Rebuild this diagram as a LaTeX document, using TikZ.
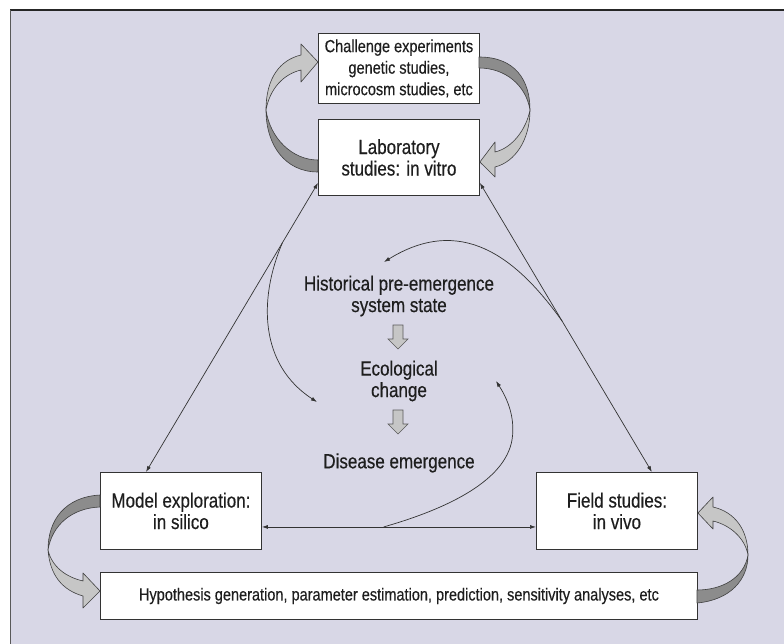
\documentclass[tikz,border=0pt]{standalone}
\usepackage{fontspec}
\setmainfont{Liberation Sans}[FakeStretch=0.83,FakeBold=0.35]
\usetikzlibrary{arrows.meta,calc}
\definecolor{bgcol}{RGB}{216,215,230}
\definecolor{txtcol}{RGB}{30,30,30}
\definecolor{edgecol}{RGB}{51,51,51}
\definecolor{ribdark}{RGB}{140,140,140}
\definecolor{riblight}{RGB}{198,198,198}
\tikzset{
  box/.style={draw=edgecol, line width=0.9pt, fill=white, text=txtcol, align=center, inner sep=2pt, anchor=north west},
  smalltxt/.style={font=\fontsize{17.5}{21.5}\selectfont},
  bigtxt/.style={font=\fontsize{20.5}{21.5}\selectfont},
  plain/.style={text=txtcol, align=center, inner sep=1pt},
  conn/.style={draw=edgecol, line width=0.7pt, {Latex[length=6pt,width=4pt]}-{Latex[length=6pt,width=4pt]}},
  curvearrow/.style={draw=edgecol, line width=0.7pt, -{Latex[length=6pt,width=4pt]}},
  ribd/.style={fill=ribdark, draw=black!75, line width=0.6pt, line join=round},
  ribl/.style={fill=riblight, draw=black!75, line width=0.6pt, line join=round},
  blk/.style={fill=riblight, draw=black!65, line width=0.6pt},
}
\newcommand\downblock[1]{\draw[blk,shift={(#1)}] (-5,0) -- (5,0) -- (5,14) -- (10,14) -- (0,24) -- (-10,14) -- (-5,14) -- cycle;}
\begin{document}
\begin{tikzpicture}[x=1pt,y=-1pt]
\useasboundingbox (0,0) rectangle (784,644);
% background panel
\fill[white] (0,0) rectangle (784,644);
\fill[bgcol] (10,10) rectangle (784,644);
\draw[black!85, line width=1.5pt] (10,10) -- (784,10);
\draw[black!65, line width=1pt] (10,10) -- (10,644);

% boxes
\node[box, smalltxt, minimum width=161, minimum height=70] (chal) at (318,33) {Challenge experiments\\genetic studies,\\microcosm studies, etc};
\node[box, bigtxt, minimum width=161, minimum height=76] (lab) at (318,119) {Laboratory\\studies: in vitro};
\node[box, bigtxt, minimum width=161, minimum height=77] (model) at (100,472) {Model exploration:\\in silico};
\node[box, bigtxt, minimum width=161, minimum height=77] (field) at (536,472) {Field studies:\\in vivo};
\node[box, smalltxt, minimum width=597, minimum height=47] (hyp) at (100,572) {Hypothesis generation, parameter estimation, prediction, sensitivity analyses, etc};

% central texts
\node[plain, bigtxt] (hist) at (399,296) {Historical pre-emergence\\system state};
\node[plain, bigtxt] (eco) at (399,381) {Ecological\\change};
\node[plain, bigtxt] (dis) at (399,463) {Disease emergence};
\coordinate (ba1) at (398,325);
\coordinate (ba2) at (398,410);
\downblock{ba1}
\downblock{ba2}

% straight connectors
\draw[conn] ([yshift=13pt]lab.south west) -- ([xshift=46pt]model.north west)
  coordinate[pos=0.207] (c3s);
\draw[conn] ([yshift=13pt]lab.south east) -- ([xshift=-46pt]field.north east)
  coordinate[pos=0.478] (c2s);
\draw[conn] ([yshift=-16pt]model.east) -- ([yshift=-16pt]field.west)
  coordinate[pos=0.444] (c1s);

% curved connectors
\coordinate (c1e) at (496,381);
\coordinate (c2e) at (384,262);
\coordinate (c3e) at (317,402);
\draw[curvearrow] (c1s) .. controls (450,508) and (505,480) .. (512,440)
  .. controls (516,415) and (505,395) .. (c1e);
\draw[curvearrow] (c2s) .. controls (515,255) and (460,215) .. (c2e);
\draw[curvearrow] (c3s) .. controls (258,300) and (260,365) .. (c3e);

% ribbon arrows: lab -> challenge (left)
\draw[ribd] (318,172) .. controls (285,172) and (266,145) .. (266,110)
  .. controls (270,138) and (292,160) .. (318,160) -- cycle;
\draw[ribl] (266,110) .. controls (266,78) and (280,60) .. (301,55) -- (301,44) -- (chal.west |- 0,62)
  -- (301,82) -- (301,70) .. controls (284,74) and (270,88) .. (266,110) -- cycle;
% challenge -> lab (right)
\draw[ribd] (479,57) .. controls (515,57) and (530,80) .. (530,110)
  .. controls (526,85) and (505,68) .. (479,68) -- cycle;
\draw[ribl] (530,110) .. controls (530,140) and (515,162) .. (495,167) -- (495,177) -- (lab.east |- 0,162)
  -- (495,142) -- (495,152) .. controls (512,148) and (526,130) .. (530,110) -- cycle;
% model -> hypothesis (left)
\draw[ribd] (100,495) .. controls (65,497) and (48,520) .. (48,550)
  .. controls (52,525) and (72,508) .. (100,507) -- cycle;
\draw[ribl] (48,550) .. controls (50,575) and (62,590) .. (83,596) -- (83,608) -- (hyp.west |- 0,591)
  -- (83,573) -- (83,581) .. controls (66,577) and (52,567) .. (48,550) -- cycle;
% hypothesis -> field (right)
\draw[ribd] (697,603) .. controls (730,600) and (748,580) .. (748,555)
  .. controls (744,578) and (722,590) .. (697,590) -- cycle;
\draw[ribl] (748,555) .. controls (748,530) and (735,512) .. (713,507) -- (713,497) -- (field.east |- 0,513)
  -- (713,529) -- (713,521) .. controls (730,525) and (745,538) .. (748,555) -- cycle;
\end{tikzpicture}
\end{document}
